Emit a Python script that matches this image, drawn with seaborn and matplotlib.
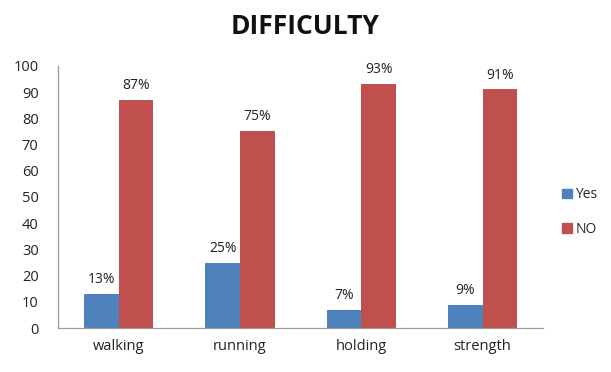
import matplotlib
matplotlib.use("Agg")
import matplotlib.pyplot as plt
import seaborn as sns
import pandas as pd

categories = ["walking", "running", "holding", "strength"]
yes_values = [13, 25, 7, 9]
no_values = [87, 75, 93, 91]
series_names = ["Yes", "NO"]
y_ticks = [0, 10, 20, 30, 40, 50, 60, 70, 80, 90, 100]

df = pd.DataFrame({
    "category": categories * 2,
    "answer": [series_names[0]] * len(categories) + [series_names[1]] * len(categories),
    "value": yes_values + no_values,
})

sns.set_theme(style="white")
plt.rcParams["font.family"] = ["Open Sans", "DejaVu Sans"]

fig = plt.figure(figsize=(6.11, 3.72), dpi=100)
ax = fig.add_axes([0.095, 0.118, 0.794, 0.705])

palette = {"Yes": "#4F81BD", "NO": "#C0504D"}
sns.barplot(data=df, x="category", y="value", hue="answer", order=categories,
            hue_order=series_names, palette=palette, width=0.57, saturation=1,
            linewidth=0, ax=ax, legend=False)

for container in ax.containers:
    ax.bar_label(container, labels=[f"{v:.0f}%" for v in container.datavalues],
                 padding=5, fontsize=10, color="#222222")

ax.set_ylim(0, 100)
ax.set_yticks(y_ticks)
ax.set_xlim(-0.5, len(categories) - 0.5)
ax.set_xlabel("")
ax.set_ylabel("")
ax.tick_params(axis="both", length=0, labelsize=10.5, colors="#222222")
ax.tick_params(axis="y", pad=14)
ax.tick_params(axis="x", pad=8)
for side in ["top", "right"]:
    ax.spines[side].set_visible(False)
for side in ["left", "bottom"]:
    ax.spines[side].set_color("#9a9a9a")
    ax.spines[side].set_linewidth(0.9)

fig.text(0.5, 0.93, "DIFFICULTY", ha="center", va="center",
         fontsize=19, fontweight="bold", color="#111111")

handles = [plt.Rectangle((0, 0), 1, 1, color=palette[n]) for n in series_names]
fig.legend(handles, series_names, loc="center left", bbox_to_anchor=(0.92, 0.43),
           frameon=False, fontsize=10, handlelength=0.7, handleheight=0.7,
           handletextpad=0.25, labelspacing=1.4, borderpad=0, borderaxespad=0)

fig.savefig("out.png", dpi=100)
